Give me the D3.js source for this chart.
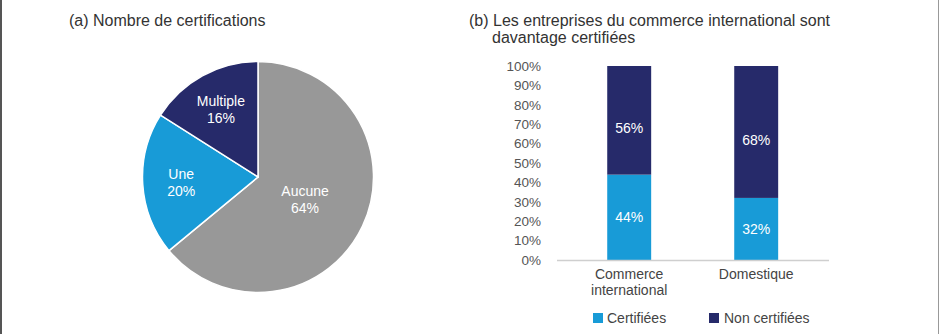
<!DOCTYPE html>
<html>
<head>
<meta charset="utf-8">
<script src="https://cdn.jsdelivr.net/npm/d3@7"></script>
<style>
  body { margin: 0; background: #fff; }
  svg { display: block; font-family: "Liberation Sans", Arial, Helvetica, sans-serif; }
</style>
</head>
<body>
<div id="chart"></div>
<script>
// data for panel (a)
var pieLabels = ["Aucune", "Une", "Multiple"];
var pieValues = [0.64, 0.20, 0.16];
var pieColors = ["#989898", "#189bd7", "#262a6a"];

// data for panel (b)
var barCategories = [["Commerce", "international"], ["Domestique"]];
var certified = [0.44, 0.32];
var notCertified = [0.56, 0.68];
var yTicks = [0, 0.1, 0.2, 0.3, 0.4, 0.5, 0.6, 0.7, 0.8, 0.9, 1];
var seriesNames = ["Certifiées", "Non certifiées"];
var seriesColors = ["#189bd7", "#262a6a"];

var svgWidth = 940;
var svgHeight = 334;

var svg = d3.select("#chart")
  .append("svg")
  .attr("width", svgWidth)
  .attr("height", svgHeight);

// frame lines on the sides
svg.append("rect").attr("x", 0).attr("y", 0).attr("width", 2).attr("height", svgHeight).attr("fill", "#555");
svg.append("rect").attr("x", 938).attr("y", 0).attr("width", 1).attr("height", svgHeight).attr("fill", "#999");

var titleColor = "#333";

// ---------- (a) pie ----------
svg.append("text")
  .attr("x", 69).attr("y", 20).attr("dy", "0.35em")
  .attr("font-size", "16px").attr("fill", titleColor)
  .text("(a) Nombre de certifications");

var radius = 115.5;
var pieGroup = svg.append("g").attr("transform", "translate(258, 177)");

var pie = d3.pie().sort(null).value(d => d.value);
var pieData = pie(pieLabels.map((l, i) => ({ label: l, value: pieValues[i], color: pieColors[i] })));

var arc = d3.arc().innerRadius(0).outerRadius(radius);

pieGroup.selectAll("path")
  .data(pieData)
  .enter()
  .append("path")
  .attr("d", arc)
  .attr("fill", d => d.data.color)
  .attr("stroke", "#fff")
  .attr("stroke-width", 1.5);

// big slice gets its label closer to the centre
var labelArc = d => {
  var r = d.data.value > 0.5 ? 52 : 77;
  return d3.arc().innerRadius(r).outerRadius(r).centroid(d);
};

var pieText = pieGroup.selectAll("text.pie-label")
  .data(pieData)
  .enter()
  .append("text")
  .classed("pie-label", true)
  .attr("transform", d => `translate(${labelArc(d)})`)
  .attr("text-anchor", "middle")
  .attr("font-size", "14px")
  .attr("fill", "#fff");

pieText.append("tspan").attr("x", 0).attr("y", -8).attr("dy", "0.35em").text(d => d.data.label);
pieText.append("tspan").attr("x", 0).attr("y", 9).attr("dy", "0.35em").text(d => Math.round(d.data.value * 100) + "%");

// ---------- (b) stacked bars ----------
var titleB = svg.append("text")
  .attr("font-size", "16px").attr("fill", titleColor);
titleB.append("tspan").attr("x", 469).attr("y", 20).attr("dy", "0.35em")
  .text("(b) Les entreprises du commerce international sont");
titleB.append("tspan").attr("x", 492).attr("y", 37).attr("dy", "0.35em")
  .text("davantage certifiées");

var yScale = d3.scaleLinear().domain([0, 1]).range([260, 66]);

var xScale = d3.scaleBand()
  .domain(barCategories.map((c, i) => i))
  .range([565.7, 819.7])
  .paddingInner(0.654)
  .paddingOuter(0.327);

var yAxis = d3.axisLeft(yScale)
  .tickValues(yTicks)
  .tickSize(0)
  .tickPadding(3)
  .tickFormat(d => Math.round(d * 100) + "%");

var yAxisG = svg.append("g")
  .attr("transform", "translate(544, 0)")
  .call(yAxis);
yAxisG.select(".domain").remove();
yAxisG.selectAll("text")
  .attr("font-size", "13.5px")
  .attr("font-family", "Liberation Sans, Arial, sans-serif")
  .attr("fill", "#555");

var stackRows = barCategories.map((c, i) => ({ idx: i, certified: certified[i], notCertified: notCertified[i] }));
var stack = d3.stack().keys(["certified", "notCertified"]);
var series = stack(stackRows);

var barGroup = svg.append("g");
var layers = barGroup.selectAll("g.layer")
  .data(series)
  .enter()
  .append("g")
  .classed("layer", true)
  .attr("fill", (d, i) => seriesColors[i]);

layers.selectAll("rect")
  .data(d => d)
  .enter()
  .append("rect")
  .attr("x", d => xScale(d.data.idx))
  .attr("width", xScale.bandwidth())
  .attr("y", d => yScale(d[1]))
  .attr("height", d => yScale(d[0]) - yScale(d[1]));

// value labels (upper ones sit a bit below the middle)
layers.selectAll("text")
  .data((d, i) => d.map(p => ({ p: p, top: i === 1 })))
  .enter()
  .append("text")
  .attr("x", d => xScale(d.p.data.idx) + xScale.bandwidth() / 2)
  .attr("y", d => yScale((d.p[0] + d.p[1]) / 2) + (d.top ? 8 : 0))
  .attr("dy", "0.35em")
  .attr("text-anchor", "middle")
  .attr("font-size", "14px")
  .attr("fill", "#fff")
  .text(d => Math.round((d.p[1] - d.p[0]) * 100) + "%");

// baseline
svg.append("line")
  .attr("x1", 557).attr("x2", 829)
  .attr("y1", yScale(0) + 0.5).attr("y2", yScale(0) + 0.5)
  .attr("stroke", "#cfcfcf").attr("stroke-width", 1.5);

// category labels
var catText = svg.selectAll("text.cat")
  .data(barCategories)
  .enter()
  .append("text")
  .classed("cat", true)
  .attr("text-anchor", "middle")
  .attr("font-size", "14px")
  .attr("fill", "#444");

catText.each(function(lines, i) {
  var cx = xScale(i) + xScale.bandwidth() / 2;
  d3.select(this).selectAll("tspan")
    .data(lines)
    .enter()
    .append("tspan")
    .attr("x", cx)
    .attr("y", (l, j) => 274 + j * 16)
    .attr("dy", "0.35em")
    .text(l => l);
});

// legend
var legendX = [593, 709];
var legend = svg.selectAll("g.legend")
  .data(seriesNames)
  .enter()
  .append("g")
  .classed("legend", true)
  .attr("transform", (d, i) => `translate(${legendX[i]}, 313)`);

legend.append("rect")
  .attr("width", 10).attr("height", 10)
  .attr("fill", (d, i) => seriesColors[i]);

legend.append("text")
  .attr("x", (d, i) => i === 0 ? 14 : 15)
  .attr("y", 5).attr("dy", "0.35em")
  .attr("font-size", "14px")
  .attr("fill", "#444")
  .text(d => d);
</script>
</body>
</html>
